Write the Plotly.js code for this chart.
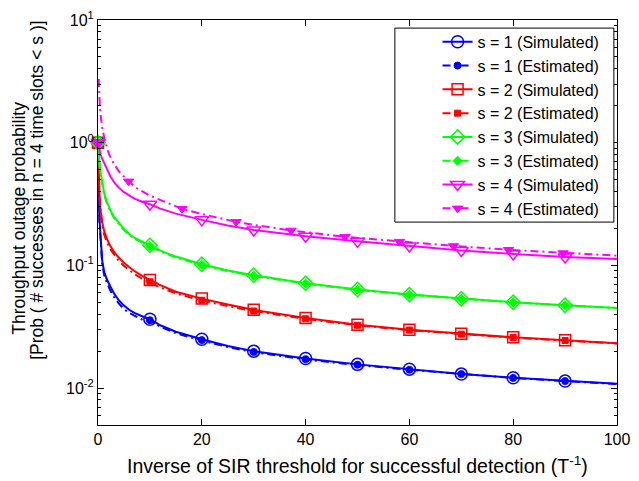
<!DOCTYPE html>
<html>
<head>
<meta charset="utf-8">
<script src="https://cdn.plot.ly/plotly-3.0.1.min.js"></script>
<style>html,body{margin:0;padding:0;background:#fff;}#chart{width:639px;height:481px;}</style>
</head>
<body>
<div id="chart"></div>
<script>
// ---- data ----
const xCurve = [0, 0.05, 0.1, 0.2, 0.3, 0.5, 0.8, 1.2, 1.7, 2.4, 3.2, 4, 5, 6, 7, 8.5, 10, 12, 15, 20, 25, 30, 40, 50, 60, 70, 80, 90, 100];
const sim1 = [1, 0.6, 0.42, 0.29, 0.23, 0.16, 0.11, 0.088, 0.077, 0.067, 0.058, 0.052, 0.047, 0.0435, 0.041, 0.0385, 0.0364, 0.0325, 0.0288, 0.025, 0.022, 0.020, 0.0174, 0.0156, 0.01426, 0.0130, 0.01214, 0.0114, 0.01084];
const est1 = [1, 0.55, 0.40, 0.28, 0.22, 0.15, 0.104, 0.083, 0.072, 0.062, 0.054, 0.049, 0.044, 0.041, 0.0388, 0.0362, 0.0352, 0.0316, 0.028, 0.0244, 0.0216, 0.0196, 0.0171, 0.0154, 0.0141, 0.0130, 0.0121, 0.0114, 0.0108];
const sim2 = [1, 0.75, 0.6, 0.45, 0.37, 0.28, 0.225, 0.19, 0.165, 0.143, 0.127, 0.116, 0.105, 0.097, 0.09, 0.082, 0.076, 0.069, 0.061, 0.0536, 0.048, 0.0434, 0.0372, 0.0328, 0.0299, 0.0277, 0.0259, 0.0245, 0.0232];
const est2 = [1, 0.7, 0.56, 0.42, 0.35, 0.265, 0.21, 0.178, 0.155, 0.135, 0.12, 0.109, 0.099, 0.091, 0.085, 0.078, 0.073, 0.066, 0.059, 0.0518, 0.0466, 0.0424, 0.0366, 0.0325, 0.0296, 0.0275, 0.0257, 0.0244, 0.0231];
const sim3 = [1, 0.9, 0.82, 0.73, 0.67, 0.57, 0.47, 0.385, 0.33, 0.28, 0.245, 0.222, 0.198, 0.18, 0.168, 0.156, 0.1456, 0.132, 0.118, 0.102, 0.091, 0.083, 0.0714, 0.0635, 0.0578, 0.0535, 0.050, 0.0473, 0.045];
const est3 = [1, 0.88, 0.8, 0.71, 0.65, 0.55, 0.455, 0.375, 0.322, 0.273, 0.24, 0.217, 0.194, 0.177, 0.165, 0.153, 0.143, 0.13, 0.116, 0.1005, 0.09, 0.0822, 0.0709, 0.0632, 0.0576, 0.0533, 0.0499, 0.0472, 0.0449];
const sim4 = [1, 0.97, 0.94, 0.9, 0.86, 0.8, 0.74, 0.68, 0.61, 0.53, 0.47, 0.43, 0.395, 0.37, 0.35, 0.33, 0.315, 0.29, 0.264, 0.235, 0.211, 0.194, 0.173, 0.157, 0.144, 0.132, 0.124, 0.117, 0.1125];
const xEst4 = [0.13, 0.2, 0.35, 0.5, 0.83, 1.3, 2.1, 3, 4, 5.9, 7.5, 10, 12, 16.2, 20, 26.6, 30, 37.2, 47.6, 58.1, 68.5, 79.1, 89.6, 100];
const est4 = [3.3, 2.65, 2.0, 1.68, 1.31, 1.05, 0.81, 0.68, 0.585, 0.484, 0.425, 0.37, 0.34, 0.289, 0.262, 0.2265, 0.214, 0.1926, 0.171, 0.156, 0.144, 0.134, 0.126, 0.12];

const xMark = [0, 10, 20, 30, 40, 50, 60, 70, 80, 90];
const simMark1 = [1, 0.0364, 0.025, 0.020, 0.0174, 0.0156, 0.01426, 0.0130, 0.01214, 0.0114];
const estMark1 = [1, 0.0357, 0.0246, 0.0197, 0.0172, 0.0155, 0.0141, 0.0130, 0.0121, 0.0114];
const simMark2 = [1, 0.076, 0.0536, 0.0434, 0.0372, 0.0328, 0.0299, 0.0277, 0.0259, 0.0245];
const estMark2 = [1, 0.0735, 0.052, 0.0425, 0.0367, 0.0325, 0.0297, 0.0275, 0.0258, 0.0244];
const simMark3 = [1, 0.1456, 0.102, 0.083, 0.0714, 0.0635, 0.0578, 0.0535, 0.050, 0.0473];
const estMark3 = [1, 0.144, 0.101, 0.0825, 0.0711, 0.0633, 0.0577, 0.0534, 0.0499, 0.0472];
const simMark4 = [1, 0.315, 0.235, 0.194, 0.173, 0.157, 0.144, 0.132, 0.124, 0.117];
const xMarkEst4 = [0, 5.9, 16.2, 26.6, 37.2, 47.6, 58.1, 68.5, 79.1, 89.6];
const estMark4 = [1, 0.484, 0.289, 0.2265, 0.1926, 0.171, 0.156, 0.144, 0.134, 0.126];

const legendNames = ['s = 1 (Simulated)', 's = 1 (Estimated)', 's = 2 (Simulated)', 's = 2 (Estimated)',
                     's = 3 (Simulated)', 's = 3 (Estimated)', 's = 4 (Simulated)', 's = 4 (Estimated)'];
const yTickVals = [0.01, 0.1, 1, 10];
const yTickText = ['10<sup>-2</sup>', '10<sup>-1</sup>', '10<sup>0</sup>', '10<sup>1</sup>'];
const xTickVals = [0, 20, 40, 60, 80, 100];
const xTitle = 'Inverse of SIR threshold for successful detection (T<sup>-1</sup>)';
const yTitle1 = 'Throughput outage probability';
const yTitle2 = '[Prob ( # successes in n = 4 time slots < s )]';

// ---- styles ----
const FONT = 'Liberation Sans, Arial, Helvetica, sans-serif';
const DASHDOT = '8px,4px,2px,4px';
const series = [
  {color: '#0000ff', simSym: 'circle-open', simSize: 12, estSym: 'circle', estSize: 7,
   xs: xCurve, sim: sim1, xe: xCurve, est: est1, xm: xMark, sm: simMark1, xem: xMark, em: estMark1},
  {color: '#ff0000', simSym: 'square-open', simSize: 11, estSym: 'square', estSize: 6,
   xs: xCurve, sim: sim2, xe: xCurve, est: est2, xm: xMark, sm: simMark2, xem: xMark, em: estMark2},
  {color: '#00ff00', simSym: 'diamond-open', simSize: 11, estSym: 'diamond', estSize: 7,
   xs: xCurve, sim: sim3, xe: xCurve, est: est3, xm: xMark, sm: simMark3, xem: xMark, em: estMark3},
  {color: '#ff00ff', simSym: 'triangle-down-open', simSize: 12, estSym: 'triangle-down', estSize: 9,
   xs: xCurve, sim: sim4, xe: xEst4, est: est4, xm: xMark, sm: simMark4, xem: xMarkEst4, em: estMark4}
];

const traces = [];
series.forEach((s, i) => {
  traces.push({x: s.xs, y: s.sim, mode: 'lines', line: {color: s.color, width: 2}, showlegend: false, hoverinfo: 'skip'});
  traces.push({x: s.xe, y: s.est, mode: 'lines', line: {color: s.color, width: 2, dash: DASHDOT}, showlegend: false, hoverinfo: 'skip'});
  traces.push({x: s.xm, y: s.sm, mode: 'markers', cliponaxis: false,
    marker: {symbol: s.simSym, size: s.simSize, color: s.color, line: {color: s.color, width: 1.5}}, showlegend: false});
  traces.push({x: s.xem, y: s.em, mode: 'markers', cliponaxis: false,
    marker: {symbol: s.estSym, size: s.estSize, color: s.color, line: {color: s.color, width: 1}}, showlegend: false});
});
// legend entries
series.forEach((s, i) => {
  traces.push({x: [null], y: [null], mode: 'lines+markers', name: legendNames[2 * i],
    line: {color: s.color, width: 2},
    marker: {symbol: s.simSym, size: s.simSize, color: s.color, line: {color: s.color, width: 1.5}}});
  traces.push({x: [null], y: [null], mode: 'lines+markers', name: legendNames[2 * i + 1],
    line: {color: s.color, width: 2, dash: DASHDOT},
    marker: {symbol: s.estSym, size: s.estSize, color: s.color, line: {color: s.color, width: 1}}});
});

const minorY = [];
[0.001, 0.01, 0.1, 1].forEach(d => { for (let k = 2; k <= 9; k++) minorY.push(+(d * k).toPrecision(3)); });

const layout = {
  width: 639, height: 481,
  margin: {l: 98, r: 22, t: 20, b: 56},
  paper_bgcolor: '#ffffff', plot_bgcolor: '#ffffff',
  font: {family: FONT, size: 16, color: '#000'},
  showlegend: true,
  legend: {x: 0.976, y: 0.988, xanchor: 'right', yanchor: 'top', bgcolor: 'rgba(0,0,0,0)',
           borderwidth: 0, font: {family: FONT, size: 16, color: '#000'},
           tracegroupgap: 0},
  shapes: [
    {type: 'rect', xref: 'paper', yref: 'paper', x0: 0.572, x1: 0.994, y0: 0.501, y1: 0.980,
     fillcolor: '#ffffff', line: {color: '#000', width: 1}, layer: 'above'}
  ],
  xaxis: {
    range: [0, 100], tickvals: xTickVals, ticks: 'inside', ticklen: 6, tickcolor: '#000',
    showline: true, linecolor: '#000', linewidth: 1, mirror: 'ticks',
    showgrid: false, zeroline: false, tickfont: {family: FONT, size: 16}
  },
  yaxis: {
    type: 'log', range: [Math.log10(0.005), 1], tickvals: yTickVals, ticktext: yTickText,
    ticks: 'inside', ticklen: 6, tickcolor: '#000',
    minor: {tickvals: minorY, ticks: 'inside', ticklen: 3, tickcolor: '#000', showgrid: false},
    showline: true, linecolor: '#000', linewidth: 1, mirror: 'ticks',
    showgrid: false, zeroline: false, tickfont: {family: FONT, size: 16}
  },
  annotations: [
    {text: xTitle, xref: 'paper', yref: 'paper', x: 0.5, y: -0.099, xanchor: 'center', yanchor: 'middle',
     showarrow: false, font: {family: FONT, size: 19.5, color: '#000'}},
    {text: yTitle1, xref: 'paper', yref: 'paper', x: -0.153, y: 0.511, xanchor: 'center', yanchor: 'middle',
     textangle: -90, showarrow: false, font: {family: FONT, size: 17.5, color: '#000'}},
    {text: yTitle2, xref: 'paper', yref: 'paper', x: -0.118, y: 0.58, xanchor: 'center', yanchor: 'middle',
     textangle: -90, showarrow: false, font: {family: FONT, size: 17.5, color: '#000'}}
  ]
};

Plotly.newPlot('chart', traces, layout, {staticPlot: true, displayModeBar: false});
</script>
</body>
</html>
